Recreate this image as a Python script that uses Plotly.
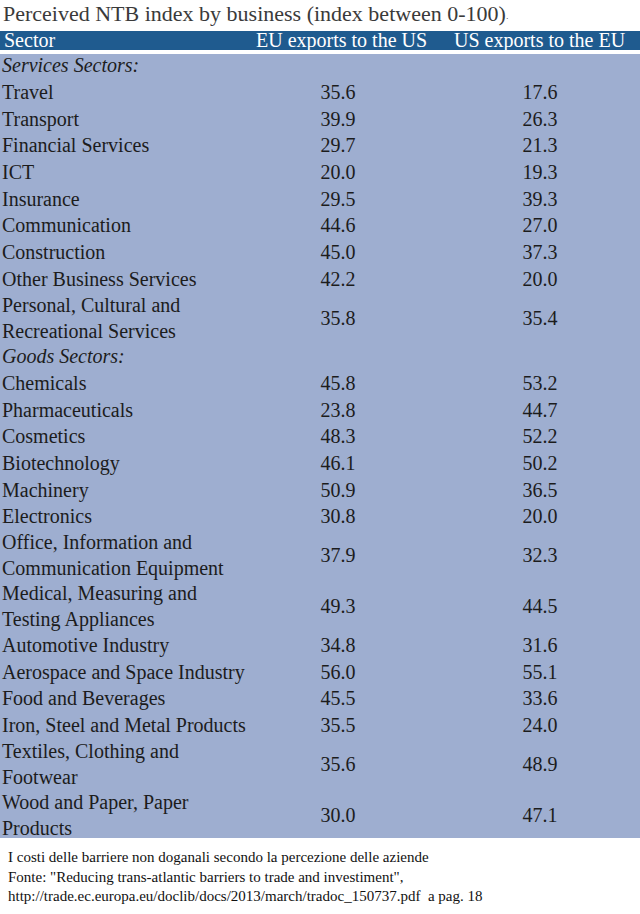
import plotly.graph_objects as go

# ---------------- data ----------------
title_text = "Perceived NTB index by business (index between 0-100)"
header_labels = ["Sector", "EU exports to the US", "US exports to the EU"]

sectors = [
    "Services Sectors:",
    "Travel",
    "Transport",
    "Financial Services",
    "ICT",
    "Insurance",
    "Communication",
    "Construction",
    "Other Business Services",
    "Personal, Cultural and<br>Recreational Services",
    "Goods Sectors:",
    "Chemicals",
    "Pharmaceuticals",
    "Cosmetics",
    "Biotechnology",
    "Machinery",
    "Electronics",
    "Office, Information and<br>Communication Equipment",
    "Medical, Measuring and<br>Testing Appliances",
    "Automotive Industry",
    "Aerospace and Space Industry",
    "Food and Beverages",
    "Iron, Steel and Metal Products",
    "Textiles, Clothing and<br>Footwear",
    "Wood and Paper, Paper<br>Products",
]
section_rows = [True, False, False, False, False, False, False, False, False, False,
                True, False, False, False, False, False, False, False, False, False,
                False, False, False, False, False]
eu_exports_to_us = [None, 35.6, 39.9, 29.7, 20.0, 29.5, 44.6, 45.0, 42.2, 35.8,
                    None, 45.8, 23.8, 48.3, 46.1, 50.9, 30.8, 37.9, 49.3, 34.8,
                    56.0, 45.5, 35.5, 35.6, 30.0]
us_exports_to_eu = [None, 17.6, 26.3, 21.3, 19.3, 39.3, 27.0, 37.3, 20.0, 35.4,
                    None, 53.2, 44.7, 52.2, 50.2, 36.5, 20.0, 32.3, 44.5, 31.6,
                    55.1, 33.6, 24.0, 48.9, 47.1]
footnote_lines = [
    "I costi delle barriere non doganali secondo la percezione delle aziende",
    "Fonte: \"Reducing trans-atlantic barriers to trade and investiment\",",
    "http://trade.ec.europa.eu/doclib/docs/2013/march/tradoc_150737.pdf&nbsp;&nbsp;a pag. 18",
]

# ---------------- layout helpers ----------------
W, H = 640, 914
FONT = "Liberation Serif, Times New Roman, serif"
BODY_BG = "#9eaed0"
HEAD_BG = "#1f5b8f"
TXT = "#1c1c1c"
BODY_TOP, BODY_BOT = 54, 838
UNIT = 26.67            # px per single-line row
DOUBLE = 1.91           # height (in units) of a two-line row
BODY_SIZE = 20

def py(px):
    return (H - px) / H

# row centres (in row units) computed from the number of lines per label
centers = []
cum = 0.0
for lab in sectors:
    h = 1.0 if "<br>" not in lab else DOUBLE
    centers.append(cum + h / 2)
    cum += h

labels = [f"<i>{s}</i>" if sec else s for s, sec in zip(sectors, section_rows)]
fmt = lambda v: "" if v is None else f"{v:.1f}"

fig = go.Figure()
fig.add_trace(go.Scatter(
    x=[2] * len(sectors), y=centers, mode="text", text=labels,
    textposition="middle right", cliponaxis=False, hoverinfo="skip",
    textfont=dict(family=FONT, size=BODY_SIZE, color=TXT)))
fig.add_trace(go.Scatter(
    x=[338] * len(sectors), y=centers, mode="text",
    text=[fmt(v) for v in eu_exports_to_us],
    textposition="middle center", cliponaxis=False, hoverinfo="skip",
    textfont=dict(family=FONT, size=BODY_SIZE, color=TXT)))
fig.add_trace(go.Scatter(
    x=[540] * len(sectors), y=centers, mode="text",
    text=[fmt(v) for v in us_exports_to_eu],
    textposition="middle center", cliponaxis=False, hoverinfo="skip",
    textfont=dict(family=FONT, size=BODY_SIZE, color=TXT)))

fig.update_xaxes(range=[0, W], domain=[0, 1], visible=False, fixedrange=True)
fig.update_yaxes(range=[(BODY_BOT - BODY_TOP) / UNIT, 0],
                 domain=[py(BODY_BOT), py(BODY_TOP)], visible=False, fixedrange=True)

# header band
fig.add_shape(type="rect", xref="paper", yref="paper", x0=0, x1=1,
              y0=py(50), y1=py(31), fillcolor=HEAD_BG, line_width=0, layer="below")

annotations = [
    dict(text=title_text + "<span style='font-size:9px'>·</span>", xref="paper", yref="paper",
         x=0, y=py(14), xanchor="left", yanchor="middle", showarrow=False, xshift=1,
         font=dict(family=FONT, size=22, color="#3a3a3a")),
    dict(text=header_labels[0], xref="x", yref="paper", x=2, y=py(40),
         xanchor="left", yanchor="middle", showarrow=False,
         font=dict(family=FONT, size=20, color="white")),
    dict(text=header_labels[1], xref="x", yref="paper", x=341, y=py(40),
         xanchor="center", yanchor="middle", showarrow=False,
         font=dict(family=FONT, size=20, color="white")),
    dict(text=header_labels[2], xref="x", yref="paper", x=540, y=py(40),
         xanchor="center", yanchor="middle", showarrow=False,
         font=dict(family=FONT, size=20, color="white")),
    dict(text="<br>".join(footnote_lines), xref="x", yref="paper", x=6, y=py(847),
         xanchor="left", yanchor="top", align="left", showarrow=False,
         font=dict(family=FONT, size=15, color="#111111")),
]

fig.update_layout(
    width=W, height=H, autosize=False,
    margin=dict(l=0, r=0, t=0, b=0, pad=0),
    paper_bgcolor="white", plot_bgcolor=BODY_BG,
    showlegend=False, annotations=annotations, hovermode=False,
)

fig.write_html("out.html", config={"displayModeBar": False, "staticPlot": True},
               post_script="document.body.style.margin='0px';")
